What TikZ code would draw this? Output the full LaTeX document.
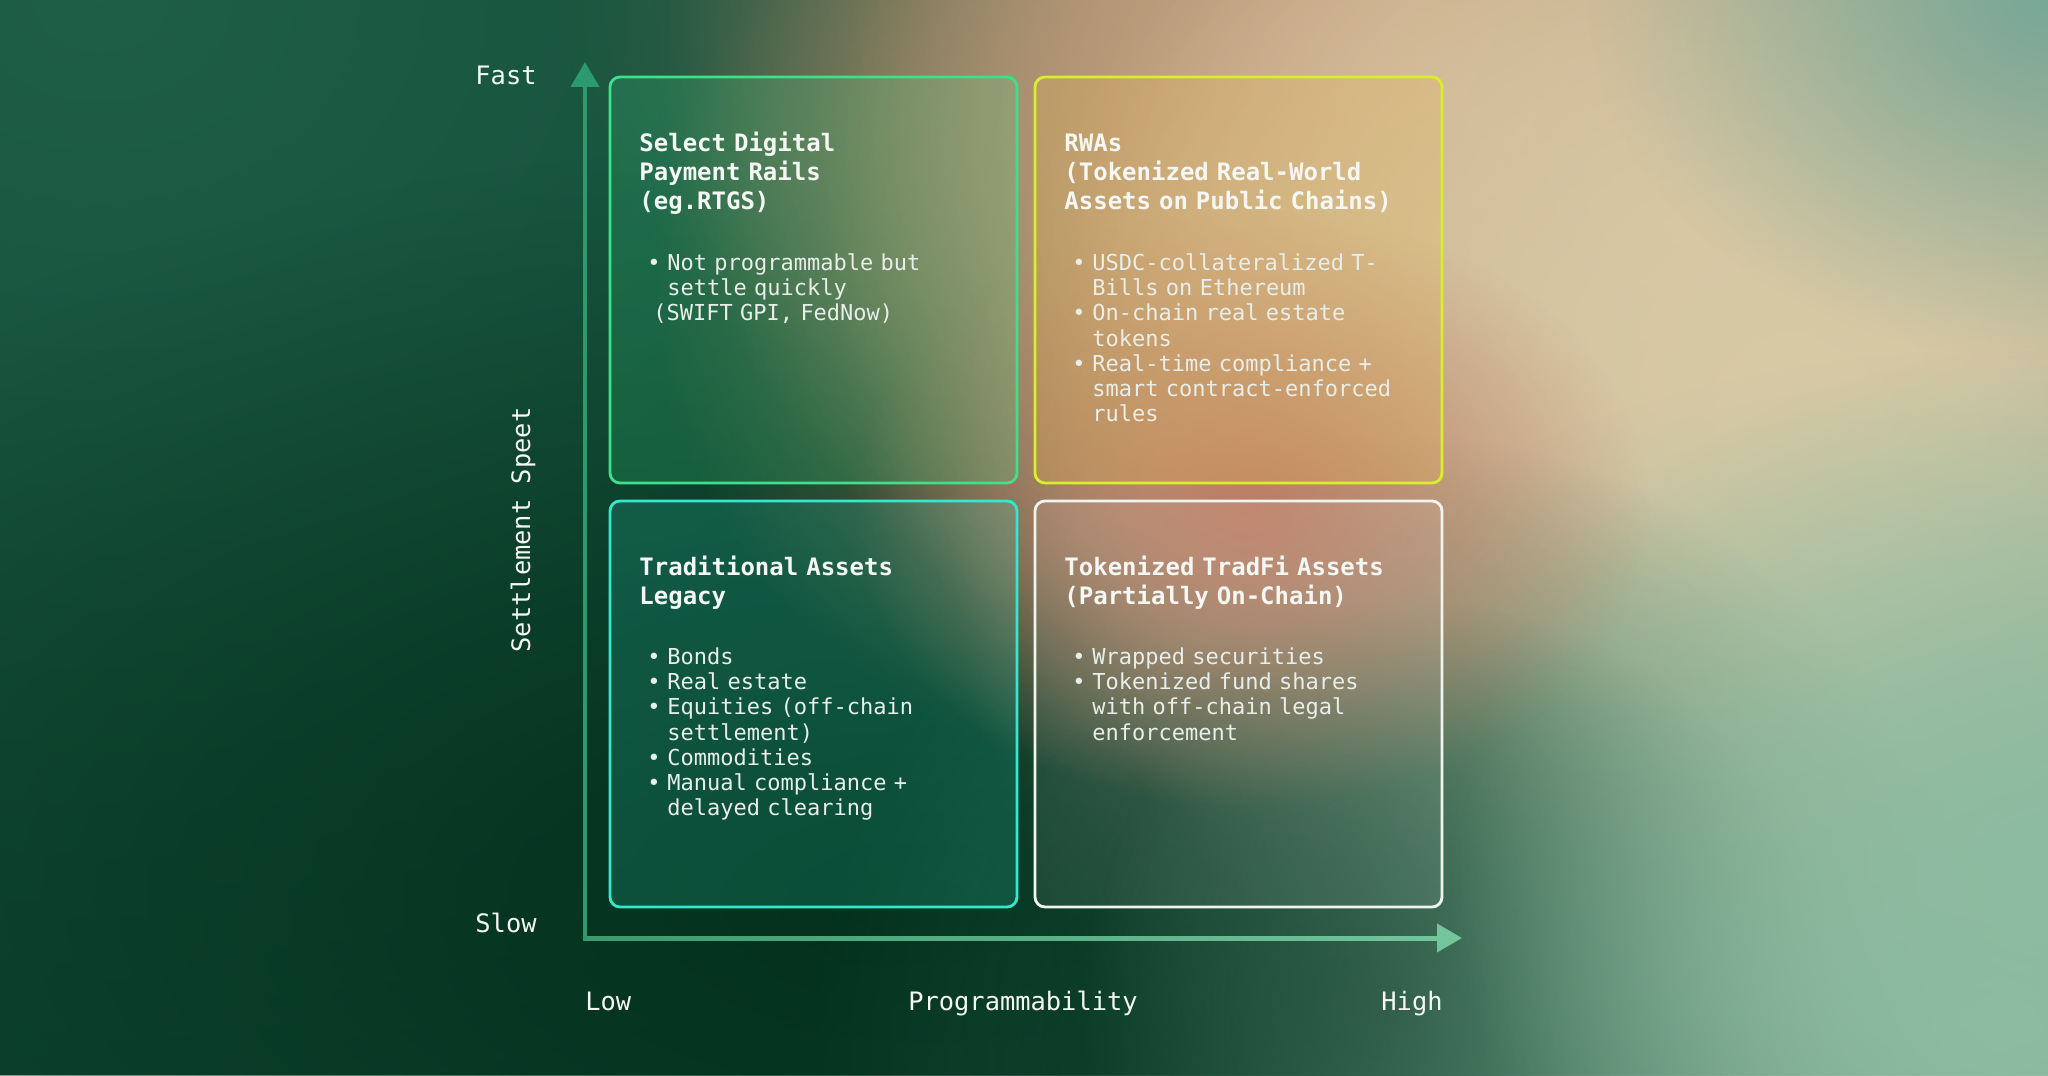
\documentclass[tikz,border=0pt]{standalone}
\usepackage{fontspec}
\newfontfamily\plexmono{DejaVu Sans Mono}
\usetikzlibrary{arrows.meta,fadings,positioning}

% soft round glow for the blurred background
\tikzfading[name=glow, inner color=transparent!0, outer color=transparent!100]

\definecolor{bgbase}{HTML}{0C4230}
\definecolor{glowtl}{HTML}{1F5E47}
\definecolor{glowdeep}{HTML}{03301C}
\definecolor{glowolive}{HTML}{5E6E50}
\definecolor{glowamber}{HTML}{A8845A}
\definecolor{glowpeach}{HTML}{CE9C80}
\definecolor{glowtan}{HTML}{CFB894}
\definecolor{glowbeige}{HTML}{D9CAA6}
\definecolor{glowteal}{HTML}{79A898}
\definecolor{glowpine}{HTML}{1C5440}
\definecolor{glowsage}{HTML}{8DBCA2}
\definecolor{glowrust}{HTML}{BC7E66}
\definecolor{txt}{HTML}{F4F7F3}
\definecolor{txtsoft}{HTML}{E8EEE9}
\definecolor{yaxisc}{HTML}{2D9A6E}
\definecolor{xaxisL}{HTML}{3D9A6E}
\definecolor{xaxisM}{HTML}{146A42}
\definecolor{xaxisR}{HTML}{74C49C}
\definecolor{edgefast}{HTML}{3EE08A}
\definecolor{edgerwa}{HTML}{D8EF2A}
\definecolor{edgelegacy}{HTML}{34E8CC}
\definecolor{edgetradfi}{HTML}{F0F4EE}
\definecolor{fillrwa}{HTML}{E8B850}

\newcommand{\dotmark}{\makebox[10pt][l]{\textbullet}}
\newcommand{\contline}{\hspace*{10pt}}

\begin{document}
\begin{tikzpicture}[x=0.5pt, y=-0.5pt,
    box/.style={rounded corners=5pt, line width=1.4pt},
    head/.style={anchor=north west, inner sep=0pt, text width=185pt, align=left,
        text=txt, font=\fontsize{12}{14.5}\selectfont\plexmono\bfseries},
    body/.style={anchor=north west, inner sep=0pt, text width=185pt, align=left,
        text=txtsoft, font=\fontsize{11}{12.65}\selectfont\plexmono},
    axlabel/.style={inner sep=0pt, text=txt, font=\fontsize{12.7}{15}\selectfont\plexmono},
    axisline/.style={line width=2pt, -{Triangle[length=12.5pt, width=14pt]}}]

    \useasboundingbox (0,0) rectangle (2048,1075);

    % --- background ---
    \begin{scope}
        \clip (0,0) rectangle (2048,1075);
        \fill[bgbase] (0,0) rectangle (2048,1075);
        \foreach \gx/\gy/\grx/\gry/\gc in {
            100/0/900/700/glowtl, 900/900/750/380/glowdeep,
            1120/0/280/220/glowolive, 1250/280/300/260/glowamber,
            1420/60/380/330/glowpeach, 1720/200/450/380/glowtan,
            1850/520/450/420/glowbeige, 1800/420/380/360/glowbeige,
            2048/0/230/180/glowteal,
            1400/1075/300/320/glowpine, 1400/1000/220/200/glowdeep,
            2000/1030/460/340/glowsage, 2048/870/300/260/glowsage,
            1250/510/200/150/glowrust} {
            \fill[\gc, path fading=glow] (\gx,\gy) ellipse ({2*\grx} and {2*\gry});
        }
    \end{scope}

    % --- axes ---
    \coordinate (origin) at (585,938);
    \coordinate (ytip) at (585,62);
    \coordinate (xtip) at (1462,938);

    \draw[axisline, draw=xaxisR, fill=xaxisR] (origin) -- (xtip);
    \shade[left color=xaxisL, middle color=xaxisM, right color=xaxisR] (583,936) rectangle (1438,940);
    \draw[axisline, draw=yaxisc, fill=yaxisc, shorten <=-1pt] (origin) -- (ytip);

    \node[axlabel, anchor=base east] (fast) at (537,85) {Fast};
    \node[axlabel, anchor=base east] (slow) at (537,932) {Slow};
    \node[axlabel, anchor=base, rotate=90] (speed) at (530,530) {Settlement Speet};
    \node[axlabel, anchor=base west] (low) at (585,1010) {Low};
    \node[axlabel, anchor=base] (prog) at (1023,1010) {Programmability};
    \node[axlabel, anchor=base east] (high) at (1443,1010) {High};

    % --- fast, low programmability ---
    \begin{scope}[shift={(610,77)}]
        \draw[box, draw=edgefast, fill=edgefast, fill opacity=0.18] (0,0) rectangle (407,406);
        \node[head] (fast-head) at (29,54) {\strut Select Digital\\Payment Rails\\(eg.RTGS)};
        \node[body] (fast-body) at (37,175) {\strut\dotmark Not programmable but\\
            \contline settle quickly\\
            \hspace*{3pt}(SWIFT GPI, FedNow)};
    \end{scope}

    % --- fast, high programmability ---
    \begin{scope}[shift={(1035,77)}]
        \draw[box, draw=edgerwa, fill=fillrwa, fill opacity=0.24] (0,0) rectangle (407,406);
        \node[head] (rwa-head) at (29,54) {\strut RWAs\\(Tokenized Real-World\\Assets on Public Chains)};
        \node[body] (rwa-body) at (37,175) {\strut\dotmark USDC-collateralized T-\\
            \contline Bills on Ethereum\\
            \dotmark On-chain real estate\\
            \contline tokens\\
            \dotmark Real-time compliance +\\
            \contline smart contract-enforced\\
            \contline rules};
    \end{scope}

    % --- slow, low programmability ---
    \begin{scope}[shift={(610,501)}]
        \draw[box, draw=edgelegacy, fill=edgelegacy, fill opacity=0.16] (0,0) rectangle (407,406);
        \node[head] (legacy-head) at (29,54) {\strut Traditional Assets\\Legacy};
        \node[body] (legacy-body) at (37,145) {\strut\dotmark Bonds\\
            \dotmark Real estate\\
            \dotmark Equities (off-chain\\
            \contline settlement)\\
            \dotmark Commodities\\
            \dotmark Manual compliance +\\
            \contline delayed clearing};
    \end{scope}

    % --- slow, high programmability ---
    \begin{scope}[shift={(1035,501)}]
        \draw[box, draw=edgetradfi, fill=white, fill opacity=0.08] (0,0) rectangle (407,406);
        \node[head] (tradfi-head) at (29,54) {\strut Tokenized TradFi Assets\\(Partially On-Chain)};
        \node[body] (tradfi-body) at (37,145) {\strut\dotmark Wrapped securities\\
            \dotmark Tokenized fund shares\\
            \contline with off-chain legal\\
            \contline enforcement};
    \end{scope}

\end{tikzpicture}
\end{document}
